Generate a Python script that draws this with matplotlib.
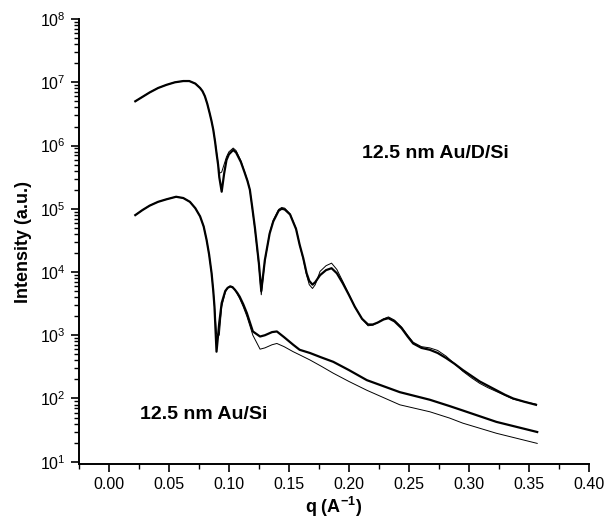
import numpy as np
import matplotlib
matplotlib.use('Agg')
import matplotlib.pyplot as plt
from matplotlib.ticker import LogLocator, MultipleLocator, NullFormatter

plt.rcParams['font.family'] = ['Liberation Sans', 'DejaVu Sans']
plt.rcParams['mathtext.default'] = 'regular'

# 12.5 nm Au/D/Si : q (1/A) and log10 intensity, measured and fitted
q_top = [0.022, 0.028, 0.034, 0.041, 0.048, 0.055, 0.062, 0.067, 0.072, 0.076,
         0.078, 0.080, 0.082, 0.084, 0.0855, 0.087, 0.0885, 0.0897, 0.091, 0.092,
         0.094, 0.096, 0.098, 0.100, 0.1036, 0.106, 0.110, 0.113, 0.1155, 0.1175,
         0.1195, 0.1217, 0.125, 0.127, 0.130, 0.134, 0.137, 0.1415, 0.144, 0.1465,
         0.151, 0.156, 0.159, 0.162, 0.1648, 0.167, 0.1697, 0.172, 0.176, 0.181,
         0.1856, 0.190, 0.195, 0.200, 0.205, 0.211, 0.216, 0.220, 0.224, 0.229,
         0.233, 0.238, 0.244, 0.249, 0.2536, 0.2605, 0.2675, 0.274, 0.281, 0.288,
         0.295, 0.302, 0.309, 0.316, 0.323, 0.330, 0.337, 0.346, 0.356]
top_data = [6.70, 6.77, 6.84, 6.91, 6.96, 7.00, 7.02, 7.02, 6.98, 6.91,
            6.86, 6.78, 6.66, 6.51, 6.39, 6.25, 6.06, 5.88, 5.70, 5.50,
            5.27, 5.55, 5.77, 5.86, 5.93, 5.89, 5.74, 5.58, 5.44, 5.30,
            5.02, 4.70, 4.14, 3.70, 4.19, 4.61, 4.80, 4.97, 5.00, 4.99,
            4.91, 4.68, 4.43, 4.22, 3.98, 3.86, 3.80, 3.84, 3.95, 4.03,
            4.06, 3.98, 3.82, 3.64, 3.45, 3.26, 3.17, 3.17, 3.20, 3.25,
            3.27, 3.22, 3.11, 2.98, 2.87, 2.80, 2.77, 2.72, 2.64, 2.55,
            2.45, 2.36, 2.27, 2.20, 2.13, 2.06, 2.00, 1.95, 1.90]
top_fit = [6.70, 6.77, 6.84, 6.91, 6.96, 7.00, 7.02, 7.02, 6.98, 6.91,
           6.86, 6.78, 6.66, 6.51, 6.39, 6.25, 6.07, 5.90, 5.72, 5.56,
           5.58, 5.70, 5.82, 5.90, 5.96, 5.92, 5.76, 5.59, 5.45, 5.30,
           5.01, 4.68, 4.10, 3.64, 4.17, 4.62, 4.82, 4.99, 5.02, 5.01,
           4.92, 4.69, 4.43, 4.20, 3.95, 3.80, 3.74, 3.80, 4.01, 4.10,
           4.14, 4.04, 3.85, 3.65, 3.45, 3.26, 3.15, 3.16, 3.20, 3.26,
           3.29, 3.24, 3.13, 3.00, 2.89, 2.82, 2.80, 2.76, 2.67, 2.55,
           2.43, 2.33, 2.24, 2.17, 2.11, 2.05, 1.99, 1.95, 1.91]

# 12.5 nm Au/Si
q_bot = [0.022, 0.028, 0.034, 0.041, 0.048, 0.056, 0.062, 0.0675, 0.072, 0.076,
         0.079, 0.0814, 0.0835, 0.0856, 0.087, 0.088, 0.0897, 0.092, 0.094, 0.097,
         0.099, 0.101, 0.103, 0.105, 0.107, 0.109, 0.112, 0.115, 0.120, 0.126,
         0.130, 0.136, 0.140, 0.146, 0.1536, 0.159, 0.1675, 0.177, 0.187, 0.200,
         0.215, 0.2425, 0.2675, 0.284, 0.295, 0.309, 0.323, 0.340, 0.357]
bot_data = [4.90, 4.98, 5.05, 5.11, 5.15, 5.19, 5.17, 5.11, 5.01, 4.88,
            4.72, 4.51, 4.28, 3.98, 3.70, 3.45, 2.74, 3.20, 3.51, 3.70,
            3.75, 3.77, 3.76, 3.72, 3.67, 3.61, 3.49, 3.35, 3.06, 2.98,
            3.00, 3.05, 3.06, 2.97, 2.85, 2.77, 2.72, 2.65, 2.58, 2.45,
            2.29, 2.10, 1.98, 1.88, 1.81, 1.72, 1.63, 1.55, 1.47]
bot_fit = [4.90, 4.98, 5.05, 5.11, 5.15, 5.19, 5.17, 5.11, 5.01, 4.88,
           4.72, 4.51, 4.28, 3.98, 3.70, 3.45, 3.02, 3.00, 3.45, 3.68,
           3.75, 3.78, 3.77, 3.72, 3.65, 3.58, 3.45, 3.30, 3.00, 2.78,
           2.80, 2.85, 2.87, 2.82, 2.74, 2.69, 2.61, 2.51, 2.40, 2.27,
           2.13, 1.90, 1.79, 1.69, 1.61, 1.53, 1.45, 1.37, 1.29]

fig = plt.figure(figsize=(6.07, 5.21), dpi=100)
ax = fig.add_axes([0.130, 0.1094, 0.840, 0.854])

ax.plot(q_top, 10**np.array(top_data), color='black', lw=1.6)
ax.plot(q_top, 10**np.array(top_fit), color='black', lw=0.7)
ax.plot(q_bot, 10**np.array(bot_data), color='black', lw=1.6)
ax.plot(q_bot, 10**np.array(bot_fit), color='black', lw=0.7)

ax.set_yscale('log')
ax.set_xlim(-0.025, 0.40)
ax.set_ylim(10**0.964, 1e8)
ax.xaxis.set_major_locator(MultipleLocator(0.05))
ax.xaxis.set_minor_locator(MultipleLocator(0.025))
ax.xaxis.set_major_formatter(plt.FuncFormatter(lambda v, p: '%.2f' % v))
ax.yaxis.set_major_locator(LogLocator(base=10, numticks=20))
ax.yaxis.set_minor_locator(LogLocator(base=10, subs=np.arange(2, 10), numticks=20))
ax.yaxis.set_minor_formatter(NullFormatter())

for s in ['top', 'right']:
    ax.spines[s].set_visible(False)
for s in ['left', 'bottom']:
    ax.spines[s].set_linewidth(1.4)
ax.tick_params(which='major', direction='out', length=6, width=1.2, labelsize=11.5)
ax.tick_params(which='minor', direction='out', length=3.5, width=1.0)

ax.set_xlabel('q (A$^{-1}$)', fontsize=13, fontweight='bold', labelpad=2)
ax.set_ylabel('Intensity (a.u.)', fontsize=13, fontweight='bold', labelpad=6)

ax.text(0.211, 10**5.88, '12.5 nm Au/D/Si', fontsize=14, fontweight='bold',
        va='center', ha='left')
ax.text(0.026, 10**1.75, '12.5 nm Au/Si', fontsize=14, fontweight='bold',
        va='center', ha='left')

plt.savefig('out.png', dpi=100)
